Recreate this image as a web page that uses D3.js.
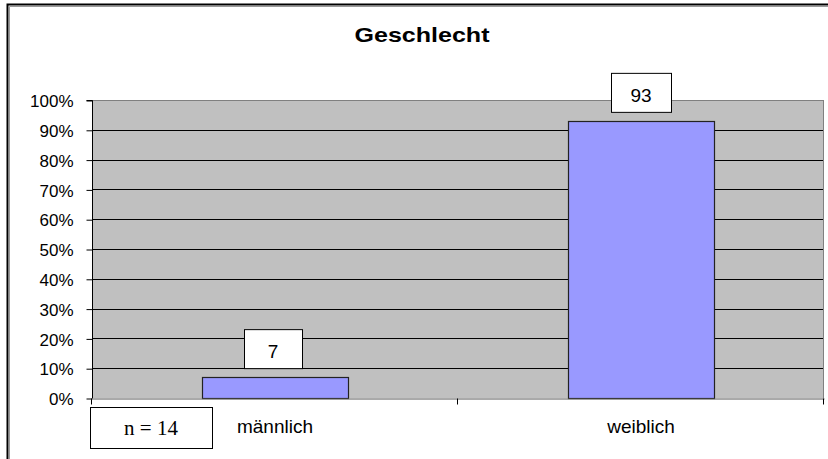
<!DOCTYPE html>
<html><head><meta charset="utf-8">
<script src="https://cdn.jsdelivr.net/npm/d3@7"></script>
<style>body{margin:0;background:#fff}svg{display:block}</style>
</head><body>
<script>
const categories = ["männlich", "weiblich"];
const values = [7, 93];
const yTicks = [0,10,20,30,40,50,60,70,80,90,100];
const title = "Geschlecht";
const note = "n = 14";

const W = 828, H = 459;
const SANS = "Liberation Sans, Arial, sans-serif";
const svg = d3.select("body").append("svg").attr("width", W).attr("height", H);

// outer frame
svg.append("path").attr("d", `M7.5,${H}V4.5H${W}`).attr("fill","none").attr("stroke","#000").attr("stroke-width",2);
svg.append("path").attr("d", `M9.5,${H}V6.5H${W}`).attr("fill","none").attr("stroke","#999").attr("stroke-width",1);

const m = {l: 92, r: 824, t: 100, b: 398};
const x = d3.scaleBand().domain(categories).range([m.l, m.r]).paddingInner(0).paddingOuter(0);
const y = d3.scaleLinear().domain([0, 100]).range([m.b, m.t]);

svg.append("rect").attr("x", m.l).attr("y", m.t).attr("width", m.r - m.l).attr("height", m.b - m.t).attr("fill", "#C0C0C0");

// gridlines
svg.append("g").selectAll("line").data(yTicks.filter(d => d > 0 && d < 100)).join("line")
  .attr("x1", m.l).attr("x2", m.r).attr("y1", d => Math.round(y(d)) + 0.5).attr("y2", d => Math.round(y(d)) + 0.5)
  .attr("stroke", "#000").attr("stroke-width", 1);
svg.append("line").attr("x1", m.l).attr("x2", m.r).attr("y1", m.t + 0.5).attr("y2", m.t + 0.5).attr("stroke", "#808080");
svg.append("line").attr("x1", m.r - 0.5).attr("x2", m.r - 0.5).attr("y1", m.t).attr("y2", m.b).attr("stroke", "#808080");

// bars
const bw = x.bandwidth() * 0.4;
svg.append("g").selectAll("rect").data(values).join("rect")
  .attr("x", (d, i) => Math.round(x(categories[i]) + x.bandwidth() / 2 - bw / 2) + 0.5)
  .attr("y", d => Math.round(y(d)) + 0.5)
  .attr("width", Math.round(bw))
  .attr("height", d => Math.round(y(0)) - Math.round(y(d)))
  .attr("fill", "#9999FF").attr("stroke", "#222").attr("stroke-width", 1.2);

// y axis
const yAxis = d3.axisLeft(y).tickValues(yTicks).tickSize(6).tickFormat(d => d + "%");
const ga = svg.append("g").attr("transform", `translate(${m.l + 0.5},0.5)`).call(yAxis);
ga.select(".domain").attr("stroke", "#000").attr("d", `M-6,${m.t}H0V${m.b}`);
ga.selectAll(".tick line").attr("stroke", "#000");
ga.selectAll(".tick text").attr("x", -19).attr("dy", "0.36em")
  .style("font-family", SANS).style("font-size", "17px").attr("fill", "#000");

// x axis
const xAxis = d3.axisBottom(x).tickSize(0).tickFormat("");
const gx = svg.append("g").attr("transform", `translate(0,${m.b + 0.5})`).call(xAxis);
gx.select(".domain").attr("stroke", "#555");
gx.selectAll(".tick").remove();
const bounds = [m.l, ...categories.map(c => x(c) + x.bandwidth())];
gx.selectAll("line.sep").data(bounds).join("line").attr("class","sep")
  .attr("x1", d => Math.round(d) - 0.5).attr("x2", d => Math.round(d) - 0.5).attr("y1", 0).attr("y2", 6).attr("stroke", "#000");
svg.append("g").selectAll("text").data(categories).join("text")
  .attr("x", d => x(d) + x.bandwidth() / 2).attr("y", 433)
  .attr("text-anchor", "middle").style("font-family", SANS).style("font-size", "19px")
  .attr("fill", "#000").text(d => d);

// data labels
const lbl = svg.append("g").selectAll("g").data(values).join("g")
  .attr("transform", (d, i) => `translate(${x(categories[i]) + x.bandwidth() / 2},${y(d)})`);
lbl.append("rect").attr("x", (d,i) => i === 0 ? -30.5 : -29.5).attr("y", -47.5).attr("width", (d,i)=> i===0?58:60).attr("height", 39)
  .attr("fill", "#fff").attr("stroke", "#000");
lbl.append("text").attr("x", (d,i)=> i===0 ? -2 : 0).attr("y", -19).attr("text-anchor", "middle")
  .style("font-family", SANS).style("font-size", "19px").attr("fill", "#000")
  .text(d => d);

// title
svg.append("text").attr("x", 422).attr("y", 42).attr("text-anchor", "middle")
  .attr("textLength", 135).attr("lengthAdjust", "spacingAndGlyphs")
  .style("font-family", SANS).style("font-size", "21px").style("font-weight", "bold")
  .attr("fill", "#000").text(title);

// n note
svg.append("rect").attr("x", 90.5).attr("y", 407.5).attr("width", 122).attr("height", 41).attr("fill", "#fff").attr("stroke", "#000");
svg.append("text").attr("x", 151).attr("y", 435).attr("text-anchor", "middle")
  .style("font-family", "Liberation Serif, Times New Roman, serif").style("font-size", "21px")
  .attr("fill", "#000").text(note);
</script>
</body></html>
